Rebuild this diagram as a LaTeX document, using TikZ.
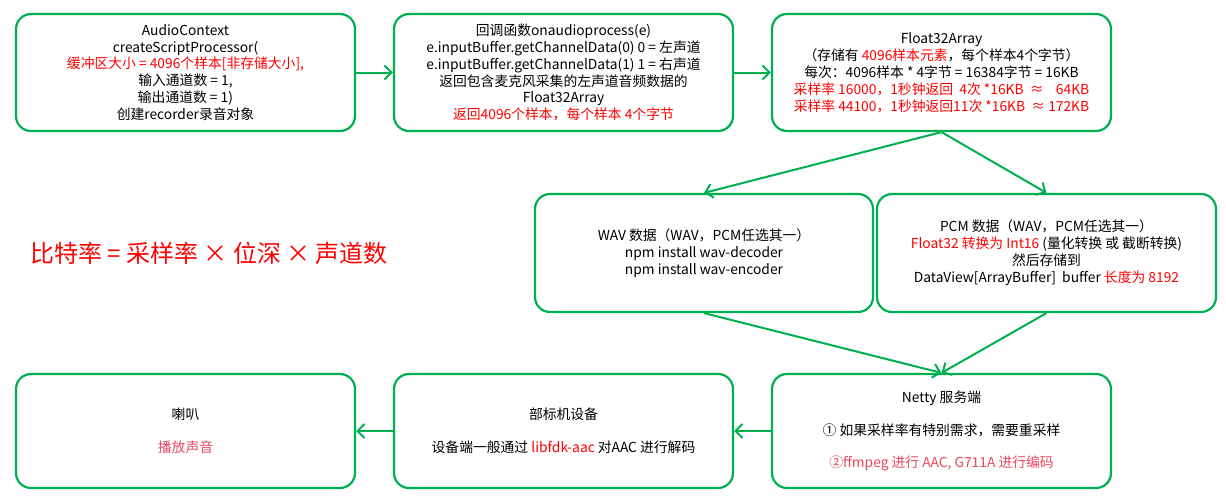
\documentclass[tikz,border=0pt]{standalone}
\usepackage{fontspec}
\setmainfont{Noto Sans CJK SC}
\usetikzlibrary{arrows.meta}
\definecolor{boxgreen}{RGB}{0,176,80}
\definecolor{hlred}{RGB}{255,0,0}
\definecolor{hlpink}{RGB}{232,72,96}
\tikzset{
  box/.style={draw=boxgreen, line width=2.2pt, rounded corners=15pt, minimum width=339pt, minimum height=117pt, align=center, inner sep=0pt, font=\fontsize{13.8}{16.9}\selectfont, fill=white},
  conn/.style={draw=boxgreen, line width=2pt, -{Straight Barb[length=7pt,width=14pt]}},
}
\newcommand{\hr}[1]{\textcolor{hlred}{#1}}
\newcommand{\hp}[1]{\textcolor{hlpink}{#1}}
\begin{document}
\begin{tikzpicture}[x=1pt,y=-1pt]
\useasboundingbox (0,0) rectangle (1226,501);
\node[box] (b1) at (185.5,72.5) {AudioContext\\createScriptProcessor(\\\hr{缓冲区大小 = 4096个样本[非存储大小],}\\输入通道数 = 1,\\输出通道数 = 1)\\创建recorder录音对象};
\node[box] (b2) at (563.5,72.5) {回调函数onaudioprocess(e)\\e.inputBuffer.getChannelData(0) 0 = 左声道\\e.inputBuffer.getChannelData(1) 1 = 右声道\\返回包含麦克风采集的左声道音频数据的\\Float32Array\\\hr{返回4096个样本，每个样本 4个字节}};
\node[box] (b3) at (941.5,72.5) {Float32Array\\（存储有 \hr{4096样本元素}，每个样本4个字节）\\每次：4096样本 * 4字节 = 16384字节 = 16KB\\\hr{采样率 16000，1秒钟返回~~4次 *16KB~~≈~~~~64KB}\\\hr{采样率 44100，1秒钟返回11次 *16KB~~≈ 172KB}};
\node[box, minimum width=338pt, minimum height=118pt] (b4) at (704,253) {WAV 数据（WAV，PCM任选其一）\\npm install wav-decoder\\npm install wav-encoder};
\node[box, minimum height=118pt] (b5) at (1046.5,253) {PCM 数据（WAV，PCM任选其一）\\\hr{Float32 转换为 Int16} (量化转换 或 截断转换)\\然后存储到\\DataView[ArrayBuffer]~~buffer \hr{长度为 8192}};
\node[box, minimum height=114pt] (b6) at (185.5,431) {喇叭\\[16pt]\hp{播放声音}};
\node[box, minimum height=114pt] (b7) at (563.5,431) {部标机设备\\[16pt]设备端一般通过 \hr{libfdk-aac} 对AAC 进行解码};
\node[box, minimum height=114pt] (b8) at (941.5,431) {Netty 服务端\\[16pt]① 如果采样率有特别需求，需要重采样\\[16pt]\hp{②ffmpeg 进行 AAC, G711A 进行编码}};
\node[font=\fontsize{24}{28}\selectfont, text=hlred, inner sep=0pt] (formula) at (209,253) {比特率 = 采样率 × 位深 × 声道数};
\draw[conn] (b1.east) -- (b2.west);
\draw[conn] (b2.east) -- (b3.west);
\draw[conn] (b3.south) -- (b4.north);
\draw[conn] (b3.south) -- (b5.north);
\draw[conn] (b4.south) -- (b8.north);
\draw[conn] (b5.south) -- (b8.north);
\draw[conn] (b8.west) -- (b7.east);
\draw[conn] (b7.west) -- (b6.east);
\end{tikzpicture}
\end{document}
